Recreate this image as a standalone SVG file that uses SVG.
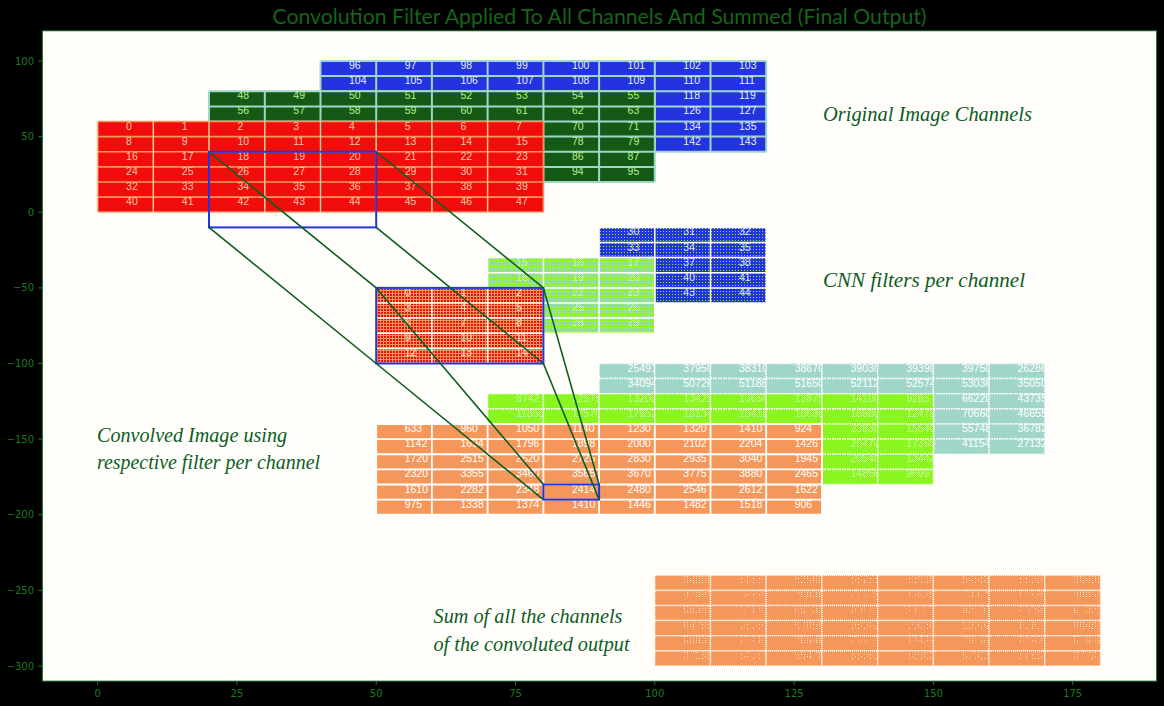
<svg xmlns="http://www.w3.org/2000/svg" width="1164" height="706" viewBox="0 0 1164 706">
<defs>
<style>
.n{font-family:"Liberation Sans",Arial,sans-serif;font-size:10.5px}
.ax{font-family:"DejaVu Sans",sans-serif;font-size:10px;fill:#1f7a1f}
.lbl{font-family:"Liberation Serif","DejaVu Serif",serif;font-style:italic;font-size:22px;fill:#0b5d1e}
.tb{fill:#e2f0ff}
.tg{fill:#b8f08c}
.tr{fill:#ffc9a8}
.gl{fill:none;stroke:#a0d6c8;stroke-width:2}
.wl{fill:none;stroke:#fff;stroke-width:1.5}
.bcv rect{fill:#a0d6c8;stroke:#fff;stroke-width:1.5;stroke-dasharray:1.5 1}
.bcv text{fill:#fff}
.gcv rect{fill:#8af51f;stroke:#fff;stroke-width:1.5;stroke-dasharray:1.5 1}
.gcv text{fill:url(#wd)}
.scv rect{fill:#f5975a;stroke:#fff;stroke-width:1.5;stroke-dasharray:1 1}
.scv text{fill:url(#ws)}
.conn line{stroke:#0b5d1e;stroke-width:1.6}
.win{fill:none;stroke:#2433e0;stroke-width:2}
</style>
<pattern id="pr" width="3" height="3" patternUnits="userSpaceOnUse"><rect width="3" height="3" fill="#f5975a"/><rect width="2" height="2" fill="#e6120c"/></pattern>
<pattern id="pg" width="3" height="3" patternUnits="userSpaceOnUse"><rect width="3" height="3" fill="#8af51f"/><rect width="2" height="2" fill="#a0d6c8"/></pattern>
<pattern id="pb" width="3" height="3" patternUnits="userSpaceOnUse"><rect width="3" height="3" fill="#2433e0"/><rect width="1" height="1" fill="#8af51f"/></pattern>
<pattern id="wd" width="2" height="2" patternUnits="userSpaceOnUse"><rect width="1" height="1" fill="#fff"/><rect x="1" y="1" width="1" height="1" fill="#fff"/></pattern>
<pattern id="ws" width="3" height="2" patternUnits="userSpaceOnUse"><rect width="1" height="1" fill="#fff"/></pattern>
</defs>

<rect width="1164" height="706" fill="#000"/>
<text x="599.5" y="24" text-anchor="middle" font-family="Lato,'DejaVu Sans',sans-serif" font-size="21" fill="#17631a" textLength="654" lengthAdjust="spacingAndGlyphs">Convolution Filter Applied To All Channels And Summed (Final Output)</text>

<g id="axes">
<rect x="42.3" y="30.75" width="1114.4" height="650.4" fill="#fffefb" stroke="#0b5d1e" stroke-width="1"/>
<path d="M97.6 681V685M236.9 681V685M376.2 681V685M515.5 681V685M654.8 681V685M794.1 681V685M933.4 681V685M1072.7 681V685M38.3 61H42.3M38.3 136.6H42.3M38.3 212.25H42.3M38.3 287.9H42.3M38.3 363.5H42.3M38.3 439.1H42.3M38.3 514.75H42.3M38.3 590.4H42.3M38.3 666H42.3" stroke="#1f7a1f" stroke-width="1"/>
<g class="ax" text-anchor="middle">
<text x="97.6" y="697">0</text><text x="236.9" y="697">25</text><text x="376.2" y="697">50</text><text x="515.5" y="697">75</text><text x="654.8" y="697">100</text><text x="794.1" y="697">125</text><text x="933.4" y="697">150</text><text x="1072.7" y="697">175</text>
</g>
<g class="ax" text-anchor="end">
<text x="34" y="64.5">100</text><text x="34" y="140.1">50</text><text x="34" y="215.75">0</text><text x="34" y="291.4">−50</text><text x="34" y="367">−100</text><text x="34" y="442.6">−150</text><text x="34" y="518.25">−200</text><text x="34" y="593.9">−250</text><text x="34" y="669.5">−300</text>
</g>
</g>

<g id="image-blue">
<rect x="320.5" y="61" width="445.7" height="90.75" fill="#2433e0"/>
<path class="gl" d="M320.5 61V151.75M376.2 61V151.75M431.9 61V151.75M487.6 61V151.75M543.4 61V151.75M599.1 61V151.75M654.8 61V151.75M710.5 61V151.75M766.2 61V151.75M320.5 61H766.2M320.5 76.1H766.2M320.5 91.25H766.2M320.5 106.4H766.2M320.5 121.5H766.2M320.5 136.6H766.2M320.5 151.75H766.2"/>
<g class="n tb">
<text x="349" y="69">96</text><text x="404.7" y="69">97</text><text x="460.4" y="69">98</text><text x="516.1" y="69">99</text><text x="571.9" y="69">100</text><text x="627.6" y="69">101</text><text x="683.3" y="69">102</text><text x="739" y="69">103</text>
<text x="349" y="84.1">104</text><text x="404.7" y="84.1">105</text><text x="460.4" y="84.1">106</text><text x="516.1" y="84.1">107</text><text x="571.9" y="84.1">108</text><text x="627.6" y="84.1">109</text><text x="683.3" y="84.1">110</text><text x="739" y="84.1">111</text>
<text x="683.3" y="99.25">118</text><text x="739" y="99.25">119</text>
<text x="683.3" y="114.4">126</text><text x="739" y="114.4">127</text>
<text x="683.3" y="129.5">134</text><text x="739" y="129.5">135</text>
<text x="683.3" y="144.6">142</text><text x="739" y="144.6">143</text>
</g>
</g>

<g id="image-green">
<rect x="209" y="91.25" width="445.8" height="90.75" fill="#145a16"/>
<path class="gl" d="M209 91.25V182M264.8 91.25V182M320.5 91.25V182M376.2 91.25V182M431.9 91.25V182M487.6 91.25V182M543.4 91.25V182M599.1 91.25V182M654.8 91.25V182M209 91.25H654.8M209 106.4H654.8M209 121.5H654.8M209 136.6H654.8M209 151.75H654.8M209 166.9H654.8M209 182H654.8"/>
<g class="n tg">
<text x="237.5" y="99.25">48</text><text x="293.3" y="99.25">49</text><text x="349" y="99.25">50</text><text x="404.7" y="99.25">51</text><text x="460.4" y="99.25">52</text><text x="516.1" y="99.25">53</text><text x="571.9" y="99.25">54</text><text x="627.6" y="99.25">55</text>
<text x="237.5" y="114.4">56</text><text x="293.3" y="114.4">57</text><text x="349" y="114.4">58</text><text x="404.7" y="114.4">59</text><text x="460.4" y="114.4">60</text><text x="516.1" y="114.4">61</text><text x="571.9" y="114.4">62</text><text x="627.6" y="114.4">63</text>
<text x="571.9" y="129.5">70</text><text x="627.6" y="129.5">71</text>
<text x="571.9" y="144.6">78</text><text x="627.6" y="144.6">79</text>
<text x="571.9" y="159.75">86</text><text x="627.6" y="159.75">87</text>
<text x="571.9" y="174.9">94</text><text x="627.6" y="174.9">95</text>
</g>
</g>

<g id="image-red">
<rect x="97.6" y="121.5" width="445.8" height="90.75" fill="#f20d0d"/>
<path d="M97.6 121.5H543.4M97.6 136.6H543.4M97.6 151.75H543.4M97.6 166.9H543.4M97.6 182H543.4M97.6 197.1H543.4M97.6 212.25H543.4M97.6 121.5V212.25M153.3 121.5V212.25M209 121.5V212.25M264.8 121.5V212.25M320.5 121.5V212.25M376.2 121.5V212.25M431.9 121.5V212.25M487.6 121.5V212.25M543.4 121.5V212.25" fill="none" stroke="#f5975a" stroke-width="1.6"/>
<path d="M97.6 121.5V212.25M153.3 121.5V212.25M209 121.5V212.25M264.8 121.5V212.25M320.5 121.5V212.25M376.2 121.5V212.25M431.9 121.5V212.25M487.6 121.5V212.25M97.6 212.25H543.4" fill="none" stroke="#fff" stroke-width="1" stroke-dasharray="1 1"/>
<g class="n tr">
<text x="126.1" y="129.5">0</text><text x="181.8" y="129.5">1</text><text x="237.5" y="129.5">2</text><text x="293.3" y="129.5">3</text><text x="349" y="129.5">4</text><text x="404.7" y="129.5">5</text><text x="460.4" y="129.5">6</text><text x="516.1" y="129.5">7</text>
<text x="126.1" y="144.6">8</text><text x="181.8" y="144.6">9</text><text x="237.5" y="144.6">10</text><text x="293.3" y="144.6">11</text><text x="349" y="144.6">12</text><text x="404.7" y="144.6">13</text><text x="460.4" y="144.6">14</text><text x="516.1" y="144.6">15</text>
<text x="126.1" y="159.75">16</text><text x="181.8" y="159.75">17</text><text x="237.5" y="159.75">18</text><text x="293.3" y="159.75">19</text><text x="349" y="159.75">20</text><text x="404.7" y="159.75">21</text><text x="460.4" y="159.75">22</text><text x="516.1" y="159.75">23</text>
<text x="126.1" y="174.9">24</text><text x="181.8" y="174.9">25</text><text x="237.5" y="174.9">26</text><text x="293.3" y="174.9">27</text><text x="349" y="174.9">28</text><text x="404.7" y="174.9">29</text><text x="460.4" y="174.9">30</text><text x="516.1" y="174.9">31</text>
<text x="126.1" y="190">32</text><text x="181.8" y="190">33</text><text x="237.5" y="190">34</text><text x="293.3" y="190">35</text><text x="349" y="190">36</text><text x="404.7" y="190">37</text><text x="460.4" y="190">38</text><text x="516.1" y="190">39</text>
<text x="126.1" y="205.1">40</text><text x="181.8" y="205.1">41</text><text x="237.5" y="205.1">42</text><text x="293.3" y="205.1">43</text><text x="349" y="205.1">44</text><text x="404.7" y="205.1">45</text><text x="460.4" y="205.1">46</text><text x="516.1" y="205.1">47</text>
</g>
</g>

<g id="filter-blue">
<rect x="599.1" y="227.4" width="167.1" height="75.6" fill="url(#pb)"/>
<path class="wl" d="M599.1 227.4V303M654.8 227.4V303M710.5 227.4V303M766.2 227.4V303M599.1 227.4H766.2M599.1 242.5H766.2M599.1 257.6H766.2M599.1 272.75H766.2M599.1 287.9H766.2M599.1 303H766.2"/>
<g class="n" fill="#dfe6ff">
<text x="627.6" y="235.4">30</text><text x="683.3" y="235.4">31</text><text x="739" y="235.4">32</text>
<text x="627.6" y="250.5">33</text><text x="683.3" y="250.5">34</text><text x="739" y="250.5">35</text>
<text x="683.3" y="265.6">37</text><text x="739" y="265.6">38</text>
<text x="683.3" y="280.75">40</text><text x="739" y="280.75">41</text>
<text x="683.3" y="295.9">43</text><text x="739" y="295.9">44</text>
</g>
</g>

<g id="filter-green">
<rect x="487.6" y="257.6" width="167.2" height="75.65" fill="url(#pg)"/>
<path class="wl" d="M487.6 257.6V333.25M543.4 257.6V333.25M599.1 257.6V333.25M654.8 257.6V333.25M487.6 257.6H654.8M487.6 272.75H654.8M487.6 287.9H654.8M487.6 303H654.8M487.6 318.1H654.8M487.6 333.25H654.8"/>
<g class="n" fill="url(#wd)">
<text x="516.1" y="265.6">15</text><text x="571.9" y="265.6">16</text><text x="627.6" y="265.6">17</text>
<text x="516.1" y="280.75">18</text><text x="571.9" y="280.75">19</text><text x="627.6" y="280.75">20</text>
<text x="571.9" y="295.9">22</text><text x="627.6" y="295.9">23</text>
<text x="571.9" y="311">25</text><text x="627.6" y="311">26</text>
<text x="571.9" y="326.1">28</text><text x="627.6" y="326.1">29</text>
</g>
</g>

<g id="filter-red">
<rect x="376.2" y="287.9" width="167.2" height="75.6" fill="url(#pr)"/>
<path class="wl" d="M376.2 287.9V363.5M431.9 287.9V363.5M487.6 287.9V363.5M543.4 287.9V363.5M376.2 287.9H543.4M376.2 303H543.4M376.2 318.1H543.4M376.2 333.25H543.4M376.2 348.4H543.4M376.2 363.5H543.4"/>
<g class="n" fill="#ffe2d0">
<text x="404.7" y="295.9">0</text><text x="460.4" y="295.9">1</text><text x="516.1" y="295.9">2</text>
<text x="404.7" y="311">3</text><text x="460.4" y="311">4</text><text x="516.1" y="311">5</text>
<text x="404.7" y="326.1">6</text><text x="460.4" y="326.1">7</text><text x="516.1" y="326.1">8</text>
<text x="404.7" y="341.25">9</text><text x="460.4" y="341.25">10</text><text x="516.1" y="341.25">11</text>
<text x="404.7" y="356.4">12</text><text x="460.4" y="356.4">13</text><text x="516.1" y="356.4">14</text>
</g>
</g>

<g id="conv-blue" class="bcv n">
<rect x="599.1" y="363.5" width="445.7" height="90.75"/>
<rect x="599.1" y="363.5" width="55.7" height="15.1"/><text x="627.6" y="371.5">25491</text>
<rect x="654.8" y="363.5" width="55.7" height="15.1"/><text x="683.3" y="371.5">37950</text>
<rect x="710.5" y="363.5" width="55.7" height="15.1"/><text x="739" y="371.5">38310</text>
<rect x="766.2" y="363.5" width="55.7" height="15.1"/><text x="794.7" y="371.5">38670</text>
<rect x="822" y="363.5" width="55.7" height="15.1"/><text x="850.5" y="371.5">39030</text>
<rect x="877.7" y="363.5" width="55.7" height="15.1"/><text x="906.2" y="371.5">39390</text>
<rect x="933.4" y="363.5" width="55.7" height="15.1"/><text x="961.9" y="371.5">39750</text>
<rect x="989.1" y="363.5" width="55.7" height="15.1"/><text x="1017.6" y="371.5">26286</text>
<rect x="599.1" y="378.6" width="55.7" height="15.1"/><text x="627.6" y="386.6">34094</text>
<rect x="654.8" y="378.6" width="55.7" height="15.1"/><text x="683.3" y="386.6">50726</text>
<rect x="710.5" y="378.6" width="55.7" height="15.1"/><text x="739" y="386.6">51188</text>
<rect x="766.2" y="378.6" width="55.7" height="15.1"/><text x="794.7" y="386.6">51650</text>
<rect x="822" y="378.6" width="55.7" height="15.1"/><text x="850.5" y="386.6">52112</text>
<rect x="877.7" y="378.6" width="55.7" height="15.1"/><text x="906.2" y="386.6">52574</text>
<rect x="933.4" y="378.6" width="55.7" height="15.1"/><text x="961.9" y="386.6">53036</text>
<rect x="989.1" y="378.6" width="55.7" height="15.1"/><text x="1017.6" y="386.6">35050</text>
<rect x="933.4" y="393.75" width="55.7" height="15.1"/><text x="961.9" y="401.75">66220</text>
<rect x="989.1" y="393.75" width="55.7" height="15.1"/><text x="1017.6" y="401.75">43735</text>
<rect x="933.4" y="408.9" width="55.7" height="15.1"/><text x="961.9" y="416.9">70660</text>
<rect x="989.1" y="408.9" width="55.7" height="15.1"/><text x="1017.6" y="416.9">46655</text>
<rect x="933.4" y="424" width="55.7" height="15.1"/><text x="961.9" y="432">55748</text>
<rect x="989.1" y="424" width="55.7" height="15.1"/><text x="1017.6" y="432">36782</text>
<rect x="933.4" y="439.1" width="55.7" height="15.1"/><text x="961.9" y="447.1">41154</text>
<rect x="989.1" y="439.1" width="55.7" height="15.1"/><text x="1017.6" y="447.1">27132</text>
</g>

<g id="conv-green" class="gcv n">
<rect x="487.6" y="393.75" width="445.8" height="90.75"/>
<rect x="487.6" y="393.75" width="55.7" height="15.1"/><text x="516.1" y="401.75">8742</text>
<rect x="543.4" y="393.75" width="55.7" height="15.1"/><text x="571.9" y="401.75">12975</text>
<rect x="599.1" y="393.75" width="55.7" height="15.1"/><text x="627.6" y="401.75">13200</text>
<rect x="654.8" y="393.75" width="55.7" height="15.1"/><text x="683.3" y="401.75">13425</text>
<rect x="710.5" y="393.75" width="55.7" height="15.1"/><text x="739" y="401.75">13650</text>
<rect x="766.2" y="393.75" width="55.7" height="15.1"/><text x="794.7" y="401.75">13875</text>
<rect x="822" y="393.75" width="55.7" height="15.1"/><text x="850.5" y="401.75">14100</text>
<rect x="877.7" y="393.75" width="55.7" height="15.1"/><text x="906.2" y="401.75">9285</text>
<rect x="487.6" y="408.9" width="55.7" height="15.1"/><text x="516.1" y="416.9">11858</text>
<rect x="543.4" y="408.9" width="55.7" height="15.1"/><text x="571.9" y="416.9">17570</text>
<rect x="599.1" y="408.9" width="55.7" height="15.1"/><text x="627.6" y="416.9">17852</text>
<rect x="654.8" y="408.9" width="55.7" height="15.1"/><text x="683.3" y="416.9">18134</text>
<rect x="710.5" y="408.9" width="55.7" height="15.1"/><text x="739" y="416.9">18416</text>
<rect x="766.2" y="408.9" width="55.7" height="15.1"/><text x="794.7" y="416.9">18698</text>
<rect x="822" y="408.9" width="55.7" height="15.1"/><text x="850.5" y="416.9">18980</text>
<rect x="877.7" y="408.9" width="55.7" height="15.1"/><text x="906.2" y="416.9">12478</text>
<rect x="822" y="424" width="55.7" height="15.1"/><text x="850.5" y="432">23830</text>
<rect x="877.7" y="424" width="55.7" height="15.1"/><text x="906.2" y="432">15640</text>
<rect x="822" y="439.1" width="55.7" height="15.1"/><text x="850.5" y="447.1">26470</text>
<rect x="877.7" y="439.1" width="55.7" height="15.1"/><text x="906.2" y="447.1">17360</text>
<rect x="822" y="454.25" width="55.7" height="15.1"/><text x="850.5" y="462.25">20540</text>
<rect x="877.7" y="454.25" width="55.7" height="15.1"/><text x="906.2" y="462.25">13442</text>
<rect x="822" y="469.4" width="55.7" height="15.1"/><text x="850.5" y="477.4">14856</text>
<rect x="877.7" y="469.4" width="55.7" height="15.1"/><text x="906.2" y="477.4">9699</text>
</g>

<g id="conv-red">
<rect x="376.2" y="424" width="445.8" height="90.75" fill="#f5975a"/>
<path d="M376.2 424V514.75M431.9 424V514.75M487.6 424V514.75M543.4 424V514.75M599.1 424V514.75M654.8 424V514.75M710.5 424V514.75M766.2 424V514.75M822 424V514.75M376.2 424H822M376.2 439.1H822M376.2 454.25H822M376.2 469.4H822M376.2 484.5H822M376.2 499.6H822M376.2 514.75H822" fill="none" stroke="#fff" stroke-width="1.8"/>
<g class="n" fill="#fff">
<text x="404.7" y="432">633</text><text x="460.4" y="432">960</text><text x="516.1" y="432">1050</text><text x="571.9" y="432">1140</text><text x="627.6" y="432">1230</text><text x="683.3" y="432">1320</text><text x="739" y="432">1410</text><text x="794.7" y="432">924</text>
<text x="404.7" y="447.1">1142</text><text x="460.4" y="447.1">1694</text><text x="516.1" y="447.1">1796</text><text x="571.9" y="447.1">1898</text><text x="627.6" y="447.1">2000</text><text x="683.3" y="447.1">2102</text><text x="739" y="447.1">2204</text><text x="794.7" y="447.1">1426</text>
<text x="404.7" y="462.25">1720</text><text x="460.4" y="462.25">2515</text><text x="516.1" y="462.25">2620</text><text x="571.9" y="462.25">2725</text><text x="627.6" y="462.25">2830</text><text x="683.3" y="462.25">2935</text><text x="739" y="462.25">3040</text><text x="794.7" y="462.25">1945</text>
<text x="404.7" y="477.4">2320</text><text x="460.4" y="477.4">3355</text><text x="516.1" y="477.4">3460</text><text x="571.9" y="477.4">3565</text><text x="627.6" y="477.4">3670</text><text x="683.3" y="477.4">3775</text><text x="739" y="477.4">3880</text><text x="794.7" y="477.4">2465</text>
<text x="404.7" y="492.5">1610</text><text x="460.4" y="492.5">2282</text><text x="516.1" y="492.5">2348</text><text x="571.9" y="492.5">2414</text><text x="627.6" y="492.5">2480</text><text x="683.3" y="492.5">2546</text><text x="739" y="492.5">2612</text><text x="794.7" y="492.5">1622</text>
<text x="404.7" y="507.6">975</text><text x="460.4" y="507.6">1338</text><text x="516.1" y="507.6">1374</text><text x="571.9" y="507.6">1410</text><text x="627.6" y="507.6">1446</text><text x="683.3" y="507.6">1482</text><text x="739" y="507.6">1518</text><text x="794.7" y="507.6">906</text>
</g>
</g>

<g id="sum" class="scv n">
<rect x="654.8" y="575.25" width="55.7" height="15.1"/><text x="683.3" y="583.25">34866</text>
<rect x="710.5" y="575.25" width="55.7" height="15.1"/><text x="739" y="583.25">51885</text>
<rect x="766.2" y="575.25" width="55.7" height="15.1"/><text x="794.7" y="583.25">52560</text>
<rect x="822" y="575.25" width="55.7" height="15.1"/><text x="850.5" y="583.25">53235</text>
<rect x="877.7" y="575.25" width="55.7" height="15.1"/><text x="906.2" y="583.25">53910</text>
<rect x="933.4" y="575.25" width="55.7" height="15.1"/><text x="961.9" y="583.25">54585</text>
<rect x="989.1" y="575.25" width="55.7" height="15.1"/><text x="1017.6" y="583.25">55260</text>
<rect x="1044.8" y="575.25" width="55.7" height="15.1"/><text x="1073.3" y="583.25">36495</text>
<rect x="654.8" y="590.4" width="55.7" height="15.1"/><text x="683.3" y="598.4">47094</text>
<rect x="710.5" y="590.4" width="55.7" height="15.1"/><text x="739" y="598.4">69990</text>
<rect x="766.2" y="590.4" width="55.7" height="15.1"/><text x="794.7" y="598.4">70836</text>
<rect x="822" y="590.4" width="55.7" height="15.1"/><text x="850.5" y="598.4">71682</text>
<rect x="877.7" y="590.4" width="55.7" height="15.1"/><text x="906.2" y="598.4">72528</text>
<rect x="933.4" y="590.4" width="55.7" height="15.1"/><text x="961.9" y="598.4">73374</text>
<rect x="989.1" y="590.4" width="55.7" height="15.1"/><text x="1017.6" y="598.4">74220</text>
<rect x="1044.8" y="590.4" width="55.7" height="15.1"/><text x="1073.3" y="598.4">48954</text>
<rect x="654.8" y="605.5" width="55.7" height="15.1"/><text x="683.3" y="613.5">59385</text>
<rect x="710.5" y="605.5" width="55.7" height="15.1"/><text x="739" y="613.5">88140</text>
<rect x="766.2" y="605.5" width="55.7" height="15.1"/><text x="794.7" y="613.5">89130</text>
<rect x="822" y="605.5" width="55.7" height="15.1"/><text x="850.5" y="613.5">90120</text>
<rect x="877.7" y="605.5" width="55.7" height="15.1"/><text x="906.2" y="613.5">91110</text>
<rect x="933.4" y="605.5" width="55.7" height="15.1"/><text x="961.9" y="613.5">92100</text>
<rect x="989.1" y="605.5" width="55.7" height="15.1"/><text x="1017.6" y="613.5">93090</text>
<rect x="1044.8" y="605.5" width="55.7" height="15.1"/><text x="1073.3" y="613.5">61320</text>
<rect x="654.8" y="620.6" width="55.7" height="15.1"/><text x="683.3" y="628.6">64785</text>
<rect x="710.5" y="620.6" width="55.7" height="15.1"/><text x="739" y="628.6">96060</text>
<rect x="766.2" y="620.6" width="55.7" height="15.1"/><text x="794.7" y="628.6">97050</text>
<rect x="822" y="620.6" width="55.7" height="15.1"/><text x="850.5" y="628.6">98040</text>
<rect x="877.7" y="620.6" width="55.7" height="15.1"/><text x="906.2" y="628.6">99030</text>
<rect x="933.4" y="620.6" width="55.7" height="15.1"/><text x="961.9" y="628.6">100020</text>
<rect x="989.1" y="620.6" width="55.7" height="15.1"/><text x="1017.6" y="628.6">101010</text>
<rect x="1044.8" y="620.6" width="55.7" height="15.1"/><text x="1073.3" y="628.6">66480</text>
<rect x="654.8" y="635.75" width="55.7" height="15.1"/><text x="683.3" y="643.75">50802</text>
<rect x="710.5" y="635.75" width="55.7" height="15.1"/><text x="739" y="643.75">75210</text>
<rect x="766.2" y="635.75" width="55.7" height="15.1"/><text x="794.7" y="643.75">75948</text>
<rect x="822" y="635.75" width="55.7" height="15.1"/><text x="850.5" y="643.75">76686</text>
<rect x="877.7" y="635.75" width="55.7" height="15.1"/><text x="906.2" y="643.75">77424</text>
<rect x="933.4" y="635.75" width="55.7" height="15.1"/><text x="961.9" y="643.75">78162</text>
<rect x="989.1" y="635.75" width="55.7" height="15.1"/><text x="1017.6" y="643.75">78900</text>
<rect x="1044.8" y="635.75" width="55.7" height="15.1"/><text x="1073.3" y="643.75">51846</text>
<rect x="654.8" y="650.9" width="55.7" height="15.1"/><text x="683.3" y="658.9">37188</text>
<rect x="710.5" y="650.9" width="55.7" height="15.1"/><text x="739" y="658.9">54963</text>
<rect x="766.2" y="650.9" width="55.7" height="15.1"/><text x="794.7" y="658.9">55476</text>
<rect x="822" y="650.9" width="55.7" height="15.1"/><text x="850.5" y="658.9">55989</text>
<rect x="877.7" y="650.9" width="55.7" height="15.1"/><text x="906.2" y="658.9">56502</text>
<rect x="933.4" y="650.9" width="55.7" height="15.1"/><text x="961.9" y="658.9">57015</text>
<rect x="989.1" y="650.9" width="55.7" height="15.1"/><text x="1017.6" y="658.9">57528</text>
<rect x="1044.8" y="650.9" width="55.7" height="15.1"/><text x="1073.3" y="658.9">37737</text>
</g>

<g id="windows">
<rect class="win" x="209" y="151.75" width="167.2" height="75.65"/>
<rect class="win" x="376.2" y="287.9" width="167.2" height="75.6"/>
<rect class="win" x="543.4" y="484.5" width="55.7" height="15.1"/>
</g>

<g id="connectors" class="conn">
<line x1="209" y1="151.75" x2="376.2" y2="287.9"/>
<line x1="376.2" y1="151.75" x2="543.4" y2="287.9"/>
<line x1="209" y1="227.4" x2="376.2" y2="363.5"/>
<line x1="376.2" y1="227.4" x2="543.4" y2="363.5"/>
<line x1="376.2" y1="287.9" x2="543.4" y2="484.5"/>
<line x1="543.4" y1="287.9" x2="599.1" y2="484.5"/>
<line x1="376.2" y1="363.5" x2="543.4" y2="499.6"/>
<line x1="543.4" y1="363.5" x2="599.1" y2="499.6"/>
</g>

<g id="labels" class="lbl">
<text x="823" y="121" textLength="209" lengthAdjust="spacingAndGlyphs">Original Image Channels</text>
<text x="823" y="287" textLength="202" lengthAdjust="spacingAndGlyphs">CNN filters per channel</text>
<text x="97" y="442" textLength="190" lengthAdjust="spacingAndGlyphs">Convolved Image using</text>
<text x="97" y="469" textLength="223" lengthAdjust="spacingAndGlyphs">respective filter per channel</text>
<text x="433.5" y="623" textLength="189" lengthAdjust="spacingAndGlyphs">Sum of all the channels</text>
<text x="433.5" y="651" textLength="196" lengthAdjust="spacingAndGlyphs">of the convoluted output</text>
</g>
</svg>
